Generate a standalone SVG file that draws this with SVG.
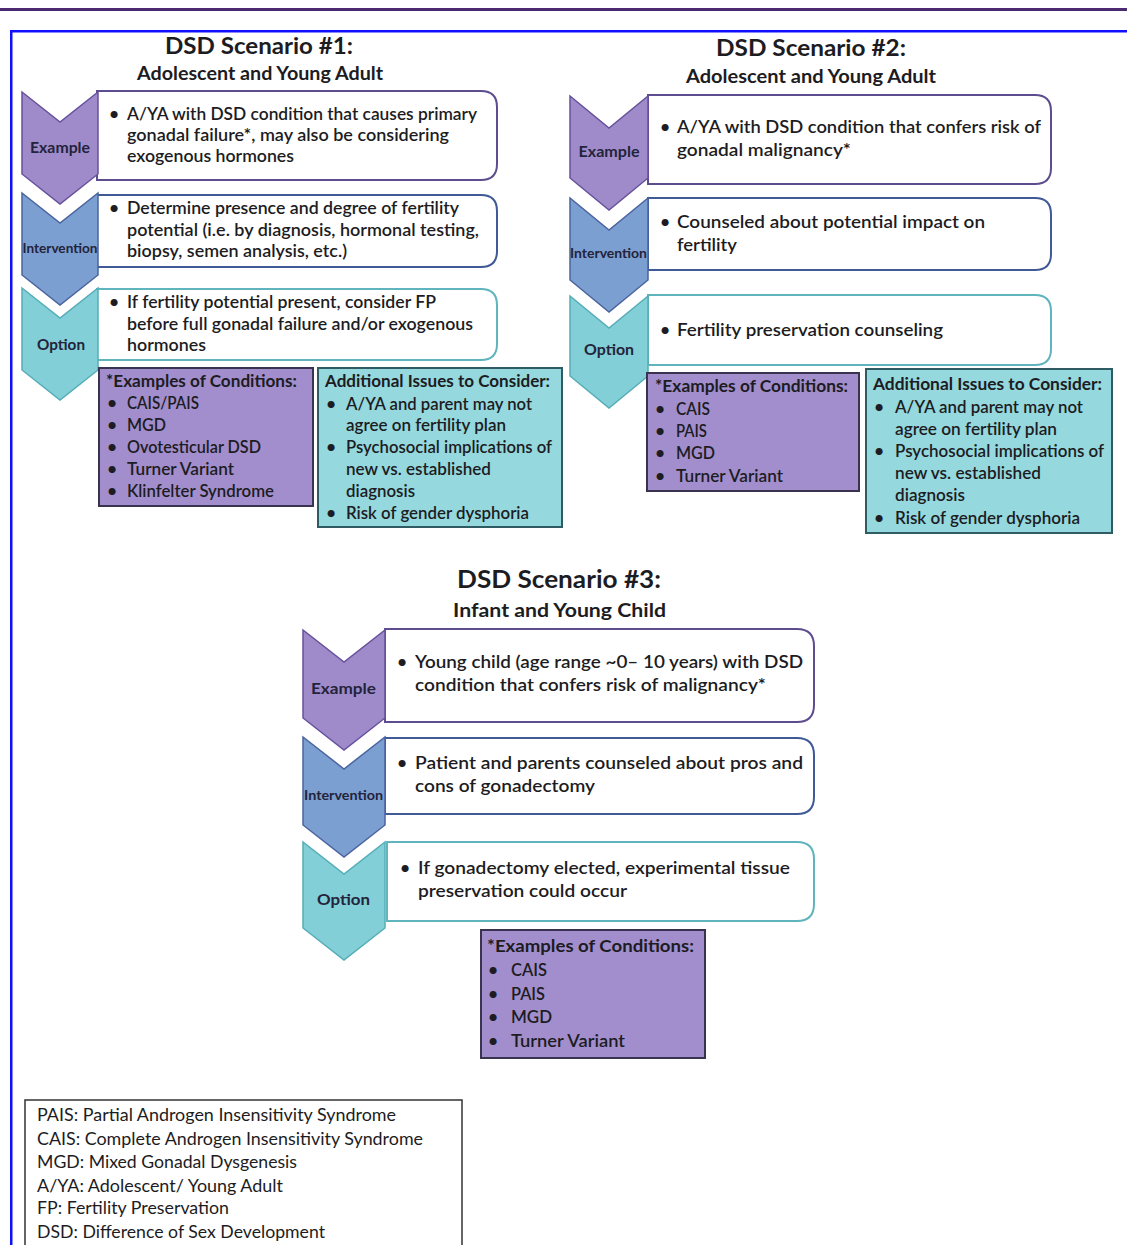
<svg xmlns="http://www.w3.org/2000/svg" width="1127" height="1245" viewBox="0 0 1127 1245">
<style>
text{font-family:Lato,"Liberation Sans",sans-serif;fill:#1c1c22;}
.t{font-size:17.5px;font-weight:600;}
.hd{font-size:17.5px;font-weight:700;}
.h{font-size:23px;font-weight:700;text-anchor:middle;}
.s{font-size:18.5px;font-weight:700;text-anchor:middle;}
.lb{font-size:15px;font-weight:700;text-anchor:middle;fill:#23233a;}
.li{font-size:12.5px;font-weight:700;text-anchor:middle;fill:#23233a;}
.lg{font-size:17px;font-weight:400;}
.ex{fill:#a08bca;stroke:#66529c;stroke-width:1.5;}
.iv{fill:#7c9fd2;stroke:#4a649e;stroke-width:1.5;}
.op{fill:#82cfd7;stroke:#55adb8;stroke-width:1.5;}
.b1{fill:#fff;stroke:#5e4d8e;stroke-width:2;}
.b2{fill:#fff;stroke:#3f5a96;stroke-width:2;}
.b3{fill:#fff;stroke:#5fb4bd;stroke-width:2;}
.cond{fill:#a28ecd;stroke:#3a3350;stroke-width:2;}
.add{fill:#95d8de;stroke:#2f5b63;stroke-width:2;}
</style>
<rect x="0" y="0" width="1127" height="1245" fill="#fff"/>
<rect x="0" y="8" width="1127" height="3" fill="#4b2a72"/>
<rect x="10" y="30" width="1117" height="2.5" fill="#1010ff"/>
<rect x="10" y="30" width="2.5" height="1215" fill="#1010ff"/>

<g id="connectors"/>

<!-- Scenario 1 -->
<g id="s1-title">
<text class="h" x="259" y="54" textLength="188" lengthAdjust="spacingAndGlyphs">DSD Scenario #1:</text>
<text class="s" x="260" y="80" textLength="246" lengthAdjust="spacingAndGlyphs">Adolescent and Young Adult</text>
</g>
<g id="s1-example">
<path class="b1" d="M97,91 H481 Q497,91 497,107 V164 Q497,180 481,180 H97 Z"/>
<path class="ex" d="M22,92 L60,122 L98,92 L98,174 L60,204 L22,174 Z"/>
<text class="lb" x="60" y="153" textLength="60" lengthAdjust="spacingAndGlyphs">Example</text>
<text class="t" x="109" y="120">•</text>
<text class="t" x="127" y="120" textLength="350" lengthAdjust="spacingAndGlyphs">A/YA with DSD condition that causes primary</text>
<text class="t" x="127" y="141" textLength="322" lengthAdjust="spacingAndGlyphs">gonadal failure*, may also be considering</text>
<text class="t" x="127" y="162" textLength="167" lengthAdjust="spacingAndGlyphs">exogenous hormones</text>
</g>
<g id="s1-intervention">
<path class="b2" d="M97,195 H481 Q497,195 497,211 V251 Q497,267 481,267 H97 Z"/>
<path class="iv" d="M22,193 L60,223 L98,193 L98,275 L60,305 L22,275 Z"/>
<text class="li" x="60" y="253" textLength="75" lengthAdjust="spacingAndGlyphs">Intervention</text>
<text class="t" x="109" y="214">•</text>
<text class="t" x="127" y="214" textLength="332" lengthAdjust="spacingAndGlyphs">Determine presence and degree of fertility</text>
<text class="t" x="127" y="236" textLength="352" lengthAdjust="spacingAndGlyphs">potential (i.e. by diagnosis, hormonal testing,</text>
<text class="t" x="127" y="257" textLength="220" lengthAdjust="spacingAndGlyphs">biopsy, semen analysis, etc.)</text>
</g>
<g id="s1-option">
<path class="b3" d="M97,289 H481 Q497,289 497,305 V344 Q497,360 481,360 H97 Z"/>
<path class="op" d="M22,288 L60,318 L98,288 L98,370 L60,400 L22,370 Z"/>
<text class="lb" x="61" y="350" textLength="48" lengthAdjust="spacingAndGlyphs">Option</text>
<text class="t" x="109" y="308">•</text>
<text class="t" x="127" y="308" textLength="309" lengthAdjust="spacingAndGlyphs">If fertility potential present, consider FP</text>
<text class="t" x="127" y="330" textLength="346" lengthAdjust="spacingAndGlyphs">before full gonadal failure and/or exogenous</text>
<text class="t" x="127" y="351" textLength="79" lengthAdjust="spacingAndGlyphs">hormones</text>
</g>
<g id="s1-conditions">
<rect class="cond" x="99" y="368" width="214" height="138"/>
<text class="hd" x="106" y="387" textLength="191" lengthAdjust="spacingAndGlyphs">*Examples of Conditions:</text>
<text class="t" x="107" y="409">•</text><text class="t" x="127" y="409" textLength="72" lengthAdjust="spacingAndGlyphs">CAIS/PAIS</text>
<text class="t" x="107" y="431">•</text><text class="t" x="127" y="431" textLength="39" lengthAdjust="spacingAndGlyphs">MGD</text>
<text class="t" x="107" y="453">•</text><text class="t" x="127" y="453" textLength="134" lengthAdjust="spacingAndGlyphs">Ovotesticular DSD</text>
<text class="t" x="107" y="475">•</text><text class="t" x="127" y="475" textLength="107" lengthAdjust="spacingAndGlyphs">Turner Variant</text>
<text class="t" x="107" y="497">•</text><text class="t" x="127" y="497" textLength="147" lengthAdjust="spacingAndGlyphs">Klinfelter Syndrome</text>
</g>
<g id="s1-issues">
<rect class="add" x="318" y="368" width="244" height="159"/>
<text class="hd" x="325" y="387" textLength="225" lengthAdjust="spacingAndGlyphs">Additional Issues to Consider:</text>
<text class="t" x="326" y="410">•</text><text class="t" x="346" y="410" textLength="186" lengthAdjust="spacingAndGlyphs">A/YA and parent may not</text>
<text class="t" x="346" y="431" textLength="160" lengthAdjust="spacingAndGlyphs">agree on fertility plan</text>
<text class="t" x="326" y="453">•</text><text class="t" x="346" y="453" textLength="206" lengthAdjust="spacingAndGlyphs">Psychosocial implications of</text>
<text class="t" x="346" y="475" textLength="145" lengthAdjust="spacingAndGlyphs">new vs. established</text>
<text class="t" x="346" y="497" textLength="69" lengthAdjust="spacingAndGlyphs">diagnosis</text>
<text class="t" x="326" y="519">•</text><text class="t" x="346" y="519" textLength="183" lengthAdjust="spacingAndGlyphs">Risk of gender dysphoria</text>
</g>

<!-- Scenario 2 -->
<g id="s2-title">
<text class="h" x="811" y="56" textLength="190" lengthAdjust="spacingAndGlyphs">DSD Scenario #2:</text>
<text class="s" x="811" y="83" textLength="250" lengthAdjust="spacingAndGlyphs">Adolescent and Young Adult</text>
</g>
<g id="s2-example">
<path class="b1" d="M648,95 H1035 Q1051,95 1051,111 V168 Q1051,184 1035,184 H648 Z"/>
<path class="ex" d="M570,96 L609,128 L648,96 L648,178 L609,210 L570,178 Z"/>
<text class="lb" x="609" y="157" textLength="61" lengthAdjust="spacingAndGlyphs">Example</text>
<text class="t" x="660" y="133">•</text>
<text class="t" x="677" y="133" textLength="364" lengthAdjust="spacingAndGlyphs">A/YA with DSD condition that confers risk of</text>
<text class="t" x="677" y="156" textLength="174" lengthAdjust="spacingAndGlyphs">gonadal malignancy*</text>
</g>
<g id="s2-intervention">
<path class="b2" d="M648,198 H1035 Q1051,198 1051,214 V254 Q1051,270 1035,270 H648 Z"/>
<path class="iv" d="M570,198 L609,230 L648,198 L648,280 L609,312 L570,280 Z"/>
<text class="li" x="608.5" y="258" textLength="77" lengthAdjust="spacingAndGlyphs">Intervention</text>
<text class="t" x="660" y="228">•</text>
<text class="t" x="677" y="228" textLength="308" lengthAdjust="spacingAndGlyphs">Counseled about potential impact on</text>
<text class="t" x="677" y="251" textLength="60" lengthAdjust="spacingAndGlyphs">fertility</text>
</g>
<g id="s2-option">
<path class="b3" d="M648,295 H1035 Q1051,295 1051,311 V349 Q1051,365 1035,365 H648 Z"/>
<path class="op" d="M570,296 L609,328 L648,296 L648,376 L609,408 L570,376 Z"/>
<text class="lb" x="609" y="355" textLength="50" lengthAdjust="spacingAndGlyphs">Option</text>
<text class="t" x="660" y="336">•</text>
<text class="t" x="677" y="336" textLength="266" lengthAdjust="spacingAndGlyphs">Fertility preservation counseling</text>
</g>
<g id="s2-conditions">
<rect class="cond" x="647" y="373" width="212" height="118"/>
<text class="hd" x="655" y="392" textLength="193" lengthAdjust="spacingAndGlyphs">*Examples of Conditions:</text>
<text class="t" x="655" y="415">•</text><text class="t" x="676" y="415" textLength="34" lengthAdjust="spacingAndGlyphs">CAIS</text>
<text class="t" x="655" y="437">•</text><text class="t" x="676" y="437" textLength="31" lengthAdjust="spacingAndGlyphs">PAIS</text>
<text class="t" x="655" y="459">•</text><text class="t" x="676" y="459" textLength="39" lengthAdjust="spacingAndGlyphs">MGD</text>
<text class="t" x="655" y="482">•</text><text class="t" x="676" y="482" textLength="107" lengthAdjust="spacingAndGlyphs">Turner Variant</text>
</g>
<g id="s2-issues">
<rect class="add" x="866" y="369" width="246" height="164"/>
<text class="hd" x="873" y="390" textLength="229" lengthAdjust="spacingAndGlyphs">Additional Issues to Consider:</text>
<text class="t" x="874" y="413">•</text><text class="t" x="895" y="413" textLength="188" lengthAdjust="spacingAndGlyphs">A/YA and parent may not</text>
<text class="t" x="895" y="435" textLength="162" lengthAdjust="spacingAndGlyphs">agree on fertility plan</text>
<text class="t" x="874" y="457">•</text><text class="t" x="895" y="457" textLength="209" lengthAdjust="spacingAndGlyphs">Psychosocial implications of</text>
<text class="t" x="895" y="479" textLength="146" lengthAdjust="spacingAndGlyphs">new vs. established</text>
<text class="t" x="895" y="501" textLength="70" lengthAdjust="spacingAndGlyphs">diagnosis</text>
<text class="t" x="874" y="524">•</text><text class="t" x="895" y="524" textLength="185" lengthAdjust="spacingAndGlyphs">Risk of gender dysphoria</text>
</g>

<!-- Scenario 3 -->
<g id="s3-title">
<text class="h" x="559" y="588" style="font-size:25px" textLength="204" lengthAdjust="spacingAndGlyphs">DSD Scenario #3:</text>
<text class="s" x="559.5" y="617" style="font-size:19.5px" textLength="213" lengthAdjust="spacingAndGlyphs">Infant and Young Child</text>
</g>
<g id="s3-example">
<path class="b1" d="M385,629 H797 Q814,629 814,646 V705 Q814,722 797,722 H385 Z"/>
<path class="ex" d="M303,630 L344,662 L385,630 L385,718 L344,750 L303,718 Z"/>
<text class="lb" x="343.5" y="694" style="font-size:16px" textLength="65" lengthAdjust="spacingAndGlyphs">Example</text>
<text class="t" x="397" y="668">•</text>
<text class="t" x="415" y="668" textLength="388" lengthAdjust="spacingAndGlyphs">Young child (age range ~0– 10 years) with DSD</text>
<text class="t" x="415" y="691" textLength="351" lengthAdjust="spacingAndGlyphs">condition that confers risk of malignancy*</text>
</g>
<g id="s3-intervention">
<path class="b2" d="M385,738 H797 Q814,738 814,755 V797 Q814,814 797,814 H385 Z"/>
<path class="iv" d="M303,737 L344,769 L385,737 L385,825 L344,857 L303,825 Z"/>
<text class="li" x="343.5" y="800" style="font-size:13px" textLength="79" lengthAdjust="spacingAndGlyphs">Intervention</text>
<text class="t" x="397" y="769">•</text>
<text class="t" x="415" y="769" textLength="388" lengthAdjust="spacingAndGlyphs">Patient and parents counseled about pros and</text>
<text class="t" x="415" y="792" textLength="180" lengthAdjust="spacingAndGlyphs">cons of gonadectomy</text>
</g>
<g id="s3-option">
<path class="b3" d="M387,842 H797 Q814,842 814,859 V904 Q814,921 797,921 H387 Z"/>
<path class="op" d="M303,842 L344,874 L385,842 L385,928 L344,960 L303,928 Z"/>
<text class="lb" x="343.5" y="905" style="font-size:16px" textLength="53" lengthAdjust="spacingAndGlyphs">Option</text>
<text class="t" x="400" y="874">•</text>
<text class="t" x="418" y="874" textLength="372" lengthAdjust="spacingAndGlyphs">If gonadectomy elected, experimental tissue</text>
<text class="t" x="418" y="897" textLength="209" lengthAdjust="spacingAndGlyphs">preservation could occur</text>
</g>
<g id="s3-conditions">
<rect class="cond" x="481" y="930" width="224" height="128"/>
<text class="hd" x="487" y="952" textLength="207" lengthAdjust="spacingAndGlyphs">*Examples of Conditions:</text>
<text class="t" x="488" y="976">•</text><text class="t" x="511" y="976" textLength="36" lengthAdjust="spacingAndGlyphs">CAIS</text>
<text class="t" x="488" y="1000">•</text><text class="t" x="511" y="1000" textLength="34" lengthAdjust="spacingAndGlyphs">PAIS</text>
<text class="t" x="488" y="1023">•</text><text class="t" x="511" y="1023" textLength="41" lengthAdjust="spacingAndGlyphs">MGD</text>
<text class="t" x="488" y="1047">•</text><text class="t" x="511" y="1047" textLength="114" lengthAdjust="spacingAndGlyphs">Turner Variant</text>
</g>

<!-- Legend -->
<g id="legend">
<rect x="25" y="1100" width="437" height="160" fill="#fff" stroke="#333" stroke-width="1.5"/>
<text class="lg" x="37" y="1121" textLength="359" lengthAdjust="spacingAndGlyphs">PAIS: Partial Androgen Insensitivity Syndrome</text>
<text class="lg" x="37" y="1145" textLength="386" lengthAdjust="spacingAndGlyphs">CAIS: Complete Androgen Insensitivity Syndrome</text>
<text class="lg" x="37" y="1168" textLength="260" lengthAdjust="spacingAndGlyphs">MGD: Mixed Gonadal Dysgenesis</text>
<text class="lg" x="37" y="1192" textLength="246" lengthAdjust="spacingAndGlyphs">A/YA: Adolescent/ Young Adult</text>
<text class="lg" x="37" y="1214" textLength="192" lengthAdjust="spacingAndGlyphs">FP: Fertility Preservation</text>
<text class="lg" x="37" y="1238" textLength="288" lengthAdjust="spacingAndGlyphs">DSD: Difference of Sex Development</text>
</g>
</svg>
